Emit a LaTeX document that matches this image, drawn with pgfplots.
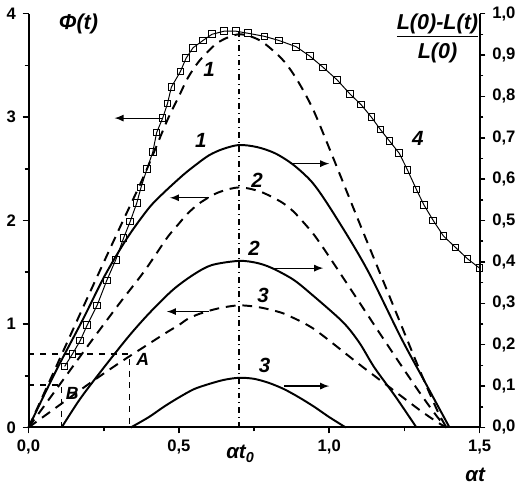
\documentclass[border=0pt]{standalone}
\usepackage{pgfplots}
\pgfplotsset{compat=1.18}
\usepackage{fontspec}
\setmainfont{Liberation Sans}
\begin{document}
\begin{tikzpicture}
\pgfplotsset{
  base/.style={
    scale only axis, width=230.5pt, height=211.5pt,
    xmin=0, xmax=1.5, clip=false,
    tick align=outside, major tick length=3pt, minor tick length=2pt,
    tick style={line width=0.8pt, black},
    axis line style={line width=1pt},
    ticklabel style={font=\fontsize{8.5}{9}\selectfont\bfseries},
    /pgf/number format/assume math mode=true,
  },
  dsh/.style={line width=1pt, dash pattern=on 5pt off 3.5pt, smooth},
  sld/.style={line width=1pt, smooth},
}
\begin{axis}[base,
  ymin=0, ymax=4,
  axis x line*=bottom, axis y line*=left,
  xtick={0,0.5,1,1.5}, minor x tick num=1,
  ytick={0,1,2,3,4}, minor y tick num=1,
  xticklabel style={/pgf/number format/.cd, use comma, fixed, fixed zerofill, precision=1},
]
% dashed Phi(t), curves 1-3
\addplot[dsh] coordinates {
 (0,0) (0.1,0.64) (0.2,1.28) (0.3,1.91) (0.385,2.44) (0.46,2.96) (0.5,3.2)
 (0.53,3.38) (0.57,3.55) (0.63,3.72) (0.70,3.80) (0.77,3.74) (0.84,3.57)
 (0.88,3.42) (0.915,3.25) (0.95,3.05) (1.0,2.70) (1.1,1.98) (1.2,1.27)
 (1.3,0.56) (1.36,0.16) (1.39,0)
};
\addplot[dsh] coordinates {
 (0,0) (0.1,0.40) (0.2,0.80) (0.3,1.19) (0.385,1.51) (0.46,1.83) (0.5,1.97)
 (0.53,2.07) (0.57,2.17) (0.63,2.27) (0.70,2.32) (0.77,2.28) (0.84,2.18)
 (0.88,2.09) (0.915,1.98) (0.95,1.86) (1.0,1.65) (1.1,1.21) (1.2,0.77)
 (1.3,0.34) (1.36,0.10) (1.39,0)
};
\addplot[dsh] coordinates {
 (0,0) (0.1,0.21) (0.2,0.42) (0.3,0.62) (0.385,0.78) (0.46,0.92) (0.5,0.99)
 (0.53,1.05) (0.57,1.10) (0.63,1.15) (0.70,1.18) (0.77,1.16) (0.84,1.11)
 (0.88,1.06) (0.915,1.01) (0.95,0.95) (1.0,0.84) (1.1,0.61) (1.2,0.39)
 (1.3,0.17) (1.36,0.05) (1.39,0)
};
% solid (L(0)-L(t))/L(0), curves 1-3
\addplot[sld] coordinates {
 (0,0) (0.09,0.54) (0.18,1.04) (0.254,1.47) (0.33,1.84) (0.40,2.12) (0.45,2.27)
 (0.514,2.44) (0.557,2.54) (0.60,2.63) (0.645,2.69) (0.70,2.73) (0.76,2.71)
 (0.82,2.65) (0.88,2.54) (0.94,2.38) (0.99,2.18) (1.076,1.78) (1.14,1.45)
 (1.24,0.86) (1.32,0.43) (1.40,0)
};
\addplot[sld] coordinates {
 (0.11,0) (0.17,0.27) (0.24,0.54) (0.33,0.87) (0.40,1.10) (0.48,1.33)
 (0.55,1.48) (0.61,1.57) (0.70,1.61) (0.76,1.59) (0.81,1.54) (0.88,1.43)
 (0.94,1.29) (1.045,1.02) (1.10,0.82) (1.15,0.58) (1.22,0.30) (1.29,0)
};
\addplot[sld] coordinates {
 (0.34,0) (0.40,0.10) (0.45,0.20) (0.5,0.29) (0.55,0.37) (0.6,0.42) (0.65,0.46)
 (0.70,0.48) (0.75,0.47) (0.8,0.43) (0.85,0.37) (0.9,0.29) (0.95,0.20)
 (1.0,0.10) (1.055,0)
};
% curve 4
\addplot[line width=0.5pt, mark=square, mark size=1.7pt,
  mark options={solid, fill=white, line width=0.5pt}] coordinates {
 (0.12,0.59) (0.146,0.71) (0.172,0.84) (0.195,0.99) (0.228,1.18) (0.26,1.42)
 (0.29,1.62) (0.316,1.83) (0.338,1.99) (0.36,2.17) (0.374,2.32) (0.394,2.50)
 (0.413,2.66) (0.426,2.85) (0.446,2.99) (0.462,3.13) (0.475,3.29) (0.505,3.44)
 (0.524,3.57) (0.547,3.67) (0.58,3.74) (0.61,3.80) (0.65,3.83) (0.69,3.83)
 (0.73,3.81) (0.785,3.78) (0.833,3.74) (0.89,3.68) (0.935,3.59) (0.98,3.48)
 (1.026,3.36) (1.07,3.22) (1.106,3.12) (1.14,3.0) (1.17,2.88) (1.2,2.77)
 (1.233,2.65) (1.26,2.49) (1.29,2.30) (1.315,2.15) (1.346,2.0) (1.38,1.85)
 (1.42,1.74) (1.46,1.63) (1.50,1.54)
};
% guides
\draw[dashdotted, line width=0.6pt] (0.70,0) -- (0.70,3.83);
\draw[dashed, line width=0.6pt] (0,0.71) -- (0.335,0.71) -- (0.335,0);
\draw[dashed, line width=0.6pt] (0,0.41) -- (0.11,0.41) -- (0.11,0);
% arrows
\draw[-latex, line width=0.6pt] (0.446,2.99) -- (0.286,2.99);
\draw[-latex, line width=0.6pt] (0.87,2.55) -- (1.0,2.55);
\draw[-latex, line width=0.6pt] (0.60,2.22) -- (0.47,2.22);
\draw[-latex, line width=0.6pt] (0.81,1.54) -- (0.98,1.54);
\draw[-latex, line width=0.6pt] (0.60,1.12) -- (0.46,1.12);
\draw[-latex, line width=0.6pt] (0.85,0.40) -- (1.0,0.40);
% labels
\begin{scope}[every node/.style={font=\fontsize{10.5}{11}\selectfont\bfseries\itshape}]
\node at (0.60,3.46) {1};
\node at (0.573,2.77) {1};
\node at (0.76,2.39) {2};
\node at (0.75,1.73) {2};
\node at (0.78,1.28) {3};
\node at (0.785,0.60) {3};
\node at (1.295,2.79) {4};
\node[font=\fontsize{11}{12}\selectfont\bfseries\itshape] at (0.166,3.9) {Φ(t)};
\node[align=center, inner sep=0pt, font=\fontsize{11}{12}\selectfont\bfseries\itshape]
  at (1.36,3.76) {\underline{L(0)-L(t)}\\[2pt]L(0)};
\node at (0.705,-0.255) {αt\textsubscript{0}};
\node at (1.485,-0.46) {αt};
\node[font=\fontsize{9}{10}\selectfont\bfseries\itshape] at (0.38,0.66) {A};
\node[font=\fontsize{9}{10}\selectfont\bfseries\itshape] at (0.145,0.33) {B};
\end{scope}
\end{axis}
\begin{axis}[base,
  ymin=0, ymax=1,
  axis x line=none, axis y line*=right,
  ytick={0,0.1,0.2,0.3,0.4,0.5,0.6,0.7,0.8,0.9,1.0}, minor y tick num=1,
  yticklabel style={/pgf/number format/.cd, use comma, fixed, fixed zerofill, precision=1},
]
\end{axis}
\end{tikzpicture}
\end{document}
